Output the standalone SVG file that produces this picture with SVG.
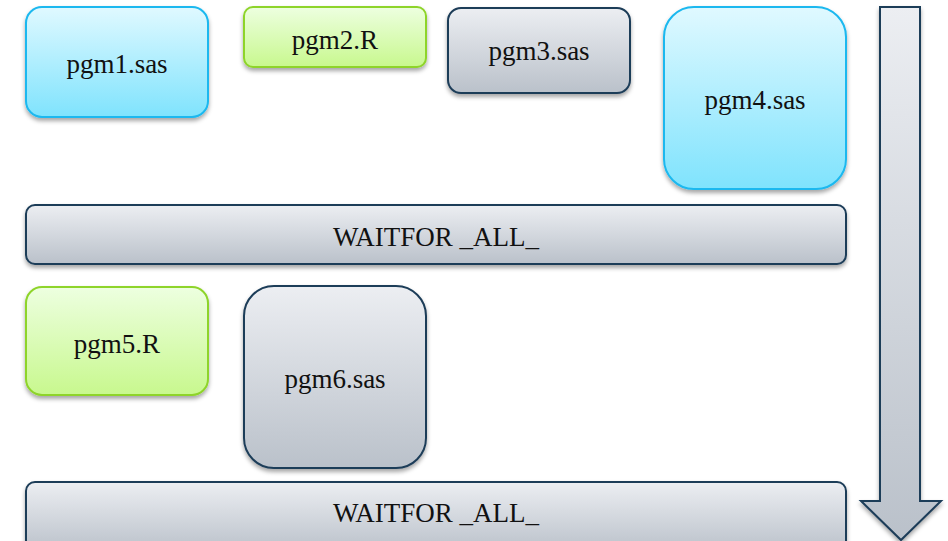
<svg xmlns="http://www.w3.org/2000/svg" width="948" height="541" viewBox="0 0 948 541">
  <defs>
    <linearGradient id="gBlue" x1="0" y1="0" x2="0" y2="1">
      <stop offset="0" stop-color="#e0f9ff"/>
      <stop offset="1" stop-color="#7fe3fd"/>
    </linearGradient>
    <linearGradient id="gGreen" x1="0" y1="0" x2="0" y2="1">
      <stop offset="0" stop-color="#edffe0"/>
      <stop offset="1" stop-color="#c8f88e"/>
    </linearGradient>
    <linearGradient id="gGray" x1="0" y1="0" x2="0" y2="1">
      <stop offset="0" stop-color="#eceef2"/>
      <stop offset="1" stop-color="#bac1ca"/>
    </linearGradient>
    <filter id="shadow" x="-10%" y="-10%" width="120%" height="130%">
      <feDropShadow dx="0" dy="3" stdDeviation="2.2" flood-color="#000" flood-opacity="0.35"/>
    </filter>
  </defs>
  <style>
    .blue { fill: url(#gBlue); stroke: #1ab8ef; stroke-width: 2; filter: url(#shadow); }
    .green { fill: url(#gGreen); stroke: #8ed42a; stroke-width: 2; filter: url(#shadow); }
    .gray { fill: url(#gGray); stroke: #1c3c58; stroke-width: 2; filter: url(#shadow); }
    text { font-family: "Liberation Serif", "Times New Roman", serif; font-size: 27px; fill: #111; text-anchor: middle; }
  </style>
  <rect width="948" height="541" fill="#fff"/>

  <!-- flow direction arrow -->
  <g id="timeline">
    <path class="gray" d="M880,7 H920 V501 H941 L901,540 L861,501 H880 Z"/>
  </g>

  <g id="pgm1">
    <rect class="blue" x="26" y="7" width="182" height="110" rx="16"/>
    <text x="117" y="73">pgm1.sas</text>
  </g>
  <g id="pgm2">
    <rect class="green" x="244" y="7" width="182" height="60" rx="9"/>
    <text x="335" y="49">pgm2.R</text>
  </g>
  <g id="pgm3">
    <rect class="gray" x="448" y="8" width="182" height="85" rx="13"/>
    <text x="539" y="60">pgm3.sas</text>
  </g>
  <g id="pgm4">
    <rect class="blue" x="664" y="7" width="182" height="182" rx="30"/>
    <text x="755" y="109">pgm4.sas</text>
  </g>
  <g id="waitfor1">
    <rect class="gray" x="26" y="205" width="820" height="59" rx="9"/>
    <text x="436" y="246">WAITFOR _ALL_</text>
  </g>
  <g id="pgm5">
    <rect class="green" x="26" y="287" width="182" height="108" rx="16"/>
    <text x="117" y="353">pgm5.R</text>
  </g>
  <g id="pgm6">
    <rect class="gray" x="244" y="286" width="182" height="182" rx="30"/>
    <text x="335" y="388">pgm6.sas</text>
  </g>
  <g id="waitfor2">
    <rect class="gray" x="26" y="482" width="820" height="70" rx="9"/>
    <text x="436" y="522">WAITFOR _ALL_</text>
  </g>
  <g id="connectors"></g>
</svg>
